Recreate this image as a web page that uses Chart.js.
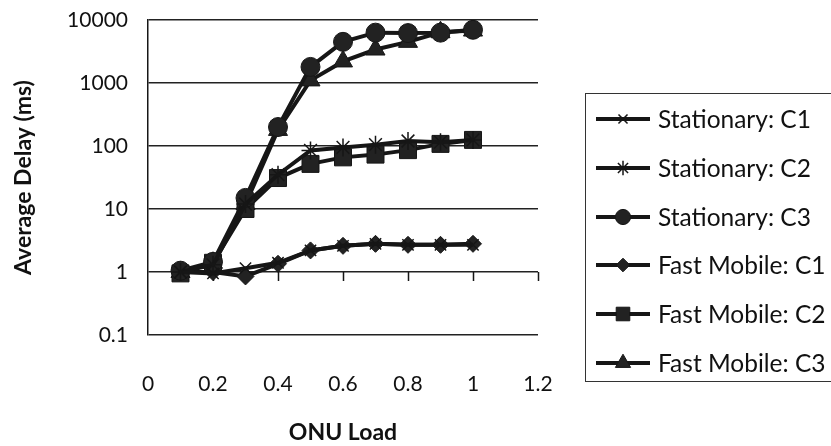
<html>
  <head>
    <script src="https://cdn.jsdelivr.net/npm/chart.js@4.4.0/dist/chart.umd.min.js"></script>
    <style>
      body { margin: 0; background: #fff; }
      #wrap { position: relative; width: 831px; height: 446px; }
      #legend {
        position: absolute; left: 585px; top: 93px; width: 246px; height: 289px;
        border: 1.5px solid #333; border-right: none; box-sizing: border-box;
        font-family: Lato, sans-serif; font-size: 24.5px; color: #111;
      }
      .item { position: absolute; left: 10px; height: 30px; }
      .item canvas { position: absolute; left: 0; top: 3px; }
      .item span { position: absolute; left: 62px; top: 0; line-height: 30px; white-space: nowrap; }
    </style>
  </head>
  <body>
    <div id="wrap">
      <canvas id="delayChart" width="831" height="446"></canvas>
      <div id="legend"></div>
    </div>
    <script>
// data
const loads = [0.1, 0.2, 0.3, 0.4, 0.5, 0.6, 0.7, 0.8, 0.9, 1.0];
const seriesNames = ["Stationary: C1", "Stationary: C2", "Stationary: C3",
                     "Fast Mobile: C1", "Fast Mobile: C2", "Fast Mobile: C3"];
const statC1 = [1.0, 0.95, 1.15, 1.4, 2.2, 2.6, 2.8, 2.7, 2.7, 2.7];
const statC2 = [1.0, 1.3, 12, 35, 85, 95, 105, 120, 115, 125];
const statC3 = [1.05, 1.45, 15, 200, 1800, 4500, 6300, 6200, 6300, 7000];
const fastC1 = [1.0, 1.0, 0.85, 1.35, 2.2, 2.6, 2.8, 2.7, 2.7, 2.8];
const fastC2 = [0.95, 1.4, 10, 31, 52, 66, 73, 86, 108, 125];
const fastC3 = [1.0, 1.4, 12, 180, 1100, 2200, 3400, 4500, 6400, 6800];
const xTickLabels = ["0", "0.2", "0.4", "0.6", "0.8", "1", "1.2"];
const yTickValues = [0.1, 1, 10, 100, 1000, 10000];
const yTickLabels = ["0.1", "1", "10", "100", "1000", "10000"];

const allSeries = [statC1, statC2, statC3, fastC1, fastC2, fastC3];
const ink = '#161616';
const markers = [
  {pointStyle: 'crossRot', radius: 8, borderWidth: 1.5},
  {pointStyle: 'star', radius: 9, borderWidth: 1.5},
  {pointStyle: 'circle', radius: 9.5, borderWidth: 1},
  {pointStyle: 'rectRot', radius: 8.5, borderWidth: 1},
  {pointStyle: 'rect', radius: 12, borderWidth: 1},
  {pointStyle: 'triangle', radius: 11, borderWidth: 1},
];
const font = {family: 'Lato, sans-serif', size: 21};
const boldFont = {family: 'Lato, sans-serif', size: 23, weight: 'bold'};

// downward tick marks on the horizontal axis line that crosses at y = 1
const crossAxisTicks = {
  id: 'crossAxisTicks',
  beforeDatasetsDraw(chart) {
    const {ctx, scales: {x, y}} = chart;
    const y1 = y.getPixelForValue(1);
    ctx.save();
    ctx.strokeStyle = ink;
    ctx.lineWidth = 1.5;
    ctx.beginPath();
    x.ticks.forEach(t => {
      if (t.value === 0) return;
      const px = Math.round(x.getPixelForValue(t.value)) + 0.5;
      ctx.moveTo(px, y1);
      ctx.lineTo(px, y1 + 9);
    });
    ctx.stroke();
    ctx.restore();
  }
};

const ctx = document.getElementById('delayChart').getContext('2d');
new Chart(ctx, {
  type: 'line',
  data: {
    datasets: allSeries.map((vals, i) => ({
      label: seriesNames[i],
      data: loads.map((x, j) => ({x: x, y: vals[j]})),
      borderColor: ink,
      backgroundColor: ink,
      borderWidth: 4,
      pointStyle: markers[i].pointStyle,
      pointRadius: markers[i].radius,
      pointBorderWidth: markers[i].borderWidth,
      pointBackgroundColor: '#222',
      pointBorderColor: ink,
      tension: 0,
    }))
  },
  options: {
    responsive: false,
    animation: false,
    layout: {padding: {top: 20, right: 293, bottom: 0, left: 0}},
    plugins: {legend: {display: false}, tooltip: {enabled: false}},
    scales: {
      x: {
        type: 'linear', min: 0, max: 1.2,
        ticks: {stepSize: 0.2, padding: 37, font: font, color: '#111',
                callback: (v, i) => xTickLabels[i]},
        grid: {display: false, drawTicks: false},
        border: {display: false},
        title: {display: true, text: 'ONU Load', font: boldFont, color: '#111',
                padding: {top: 0, bottom: 0}},
        afterFit: s => { s.height = 111; }
      },
      y: {
        type: 'logarithmic', min: 0.1, max: 10000,
        afterBuildTicks: s => { s.ticks = yTickValues.map(v => ({value: v})); },
        ticks: {padding: 20, font: font, color: '#111',
                callback: (v, i) => yTickLabels[i]},
        grid: {color: '#222', lineWidth: 1.5, drawTicks: false},
        border: {color: ink, width: 1.5},
        title: {display: true, text: 'Average Delay (ms)', font: boldFont, color: '#111',
                padding: {top: 10, bottom: 0}},
        afterFit: s => { s.width = 148; s.paddingTop = 0; s.paddingBottom = 0; }
      }
    }
  },
  plugins: [crossAxisTicks]
});

// legend: line with the series marker, then the name
const legend = document.getElementById('legend');
seriesNames.forEach((name, i) => {
  const item = document.createElement('div');
  item.className = 'item';
  item.style.top = (10 + i * 48.8) + 'px';
  const c = document.createElement('canvas');
  c.width = 54; c.height = 24;
  const g = c.getContext('2d');
  g.strokeStyle = ink; g.fillStyle = '#222';
  g.lineWidth = 4;
  g.beginPath(); g.moveTo(0, 12); g.lineTo(54, 12); g.stroke();
  g.lineWidth = markers[i].borderWidth;
  Chart.helpers.drawPoint(g, {pointStyle: markers[i].pointStyle, radius: markers[i].radius * 0.8,
                              rotation: 0, borderWidth: markers[i].borderWidth}, 27, 12);
  const s = document.createElement('span');
  s.textContent = name;
  item.appendChild(c);
  item.appendChild(s);
  legend.appendChild(item);
});
    </script>
  </body>
</html>
